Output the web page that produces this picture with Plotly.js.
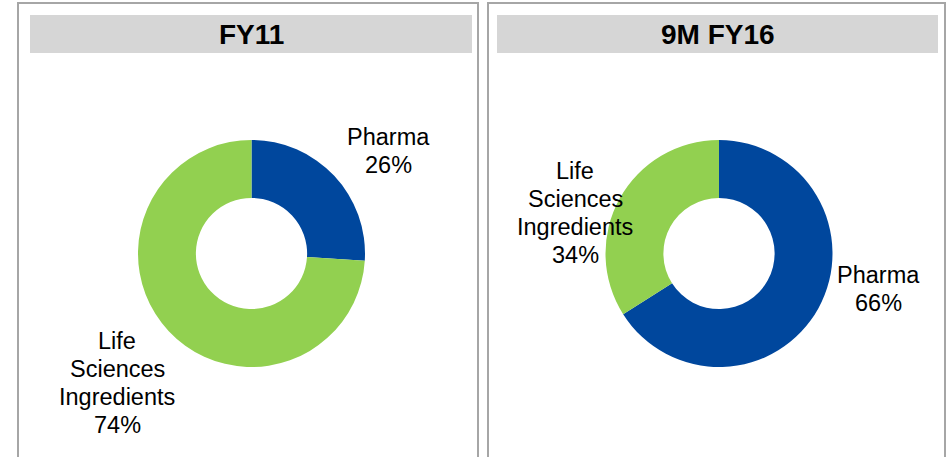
<!DOCTYPE html>
<html>
<head>
<meta charset="utf-8">
<script src="https://cdn.plot.ly/plotly-3.0.1.min.js"></script>
<style>html,body{margin:0;padding:0;background:#fff;}#chart{width:948px;height:457px;}</style>
</head>
<body>
<div id="chart"></div>
<script>
// Data
const panelTitles = ["FY11", "9M FY16"];
const segments = ["Pharma", "Life Sciences Ingredients"];
const segmentLabelLines = [["Pharma"], ["Life", "Sciences", "Ingredients"]];
const valuesFY11 = [26, 74];
const values9MFY16 = [66, 34];
const colors = ["#00479D", "#92D050"];

const W = 948, H = 457;
const px = x => x / W;
const py = y => 1 - y / H;

function pieTrace(values, x0, x1) {
  return {
    type: "pie",
    labels: segments,
    values: values,
    sort: false,
    direction: "clockwise",
    rotation: 0,
    hole: 0.49,
    textinfo: "none",
    hoverinfo: "label+percent",
    marker: {colors: colors, line: {width: 0}},
    domain: {x: [px(x0), px(x1)], y: [py(367), py(140)]},
    showlegend: false
  };
}

const data = [
  pieTrace(valuesFY11, 138, 365),
  pieTrace(values9MFY16, 605.5, 832.5)
];

const labelFont = {family: "Liberation Sans, Arial, sans-serif", size: 23.5, color: "#000"};
const titleFont = {family: "Liberation Sans, Arial, sans-serif", size: 28, color: "#000", weight: "bold"};

const base = {xref: "paper", yref: "paper", showarrow: false, xanchor: "center", yanchor: "middle", align: "center"};
const annotations = [
  Object.assign({}, base, {text: "<b>" + panelTitles[0] + "</b>", x: px(251), y: py(35), font: titleFont}),
  Object.assign({}, base, {text: "<b>" + panelTitles[1] + "</b>", x: px(718), y: py(35), font: titleFont})
];

// one annotation per text line, 28px apart, centred on (cx, firstY)
function addLabel(i, values, cx, firstY) {
  const lines = segmentLabelLines[i].concat([values[i] + "%"]);
  lines.forEach((t, k) => {
    annotations.push(Object.assign({}, base, {text: t, x: px(cx), y: py(firstY + 28 * k), font: labelFont}));
  });
}
addLabel(0, valuesFY11, 388, 137);
addLabel(1, valuesFY11, 117, 341);
addLabel(1, values9MFY16, 575, 171);
addLabel(0, values9MFY16, 878, 275);

const shapes = [
  {type: "rect", x0: px(18), x1: px(478), y0: py(470), y1: py(3), line: {color: "#a6a6a6", width: 2}, fillcolor: "rgba(0,0,0,0)"},
  {type: "rect", x0: px(488), x1: px(945), y0: py(470), y1: py(3), line: {color: "#a6a6a6", width: 2}, fillcolor: "rgba(0,0,0,0)"},
  {type: "rect", x0: px(30), x1: px(472), y0: py(53), y1: py(15), line: {width: 0}, fillcolor: "#d6d6d6", layer: "below"},
  {type: "rect", x0: px(497), x1: px(938), y0: py(53), y1: py(15), line: {width: 0}, fillcolor: "#d6d6d6", layer: "below"}
].map(s => Object.assign({xref: "paper", yref: "paper"}, s));

const layout = {
  width: W, height: H,
  margin: {l: 0, r: 0, t: 0, b: 0},
  paper_bgcolor: "#fff",
  plot_bgcolor: "#fff",
  showlegend: false,
  annotations: annotations,
  shapes: shapes
};

Plotly.newPlot("chart", data, layout, {staticPlot: true, displayModeBar: false});
</script>
</body>
</html>
